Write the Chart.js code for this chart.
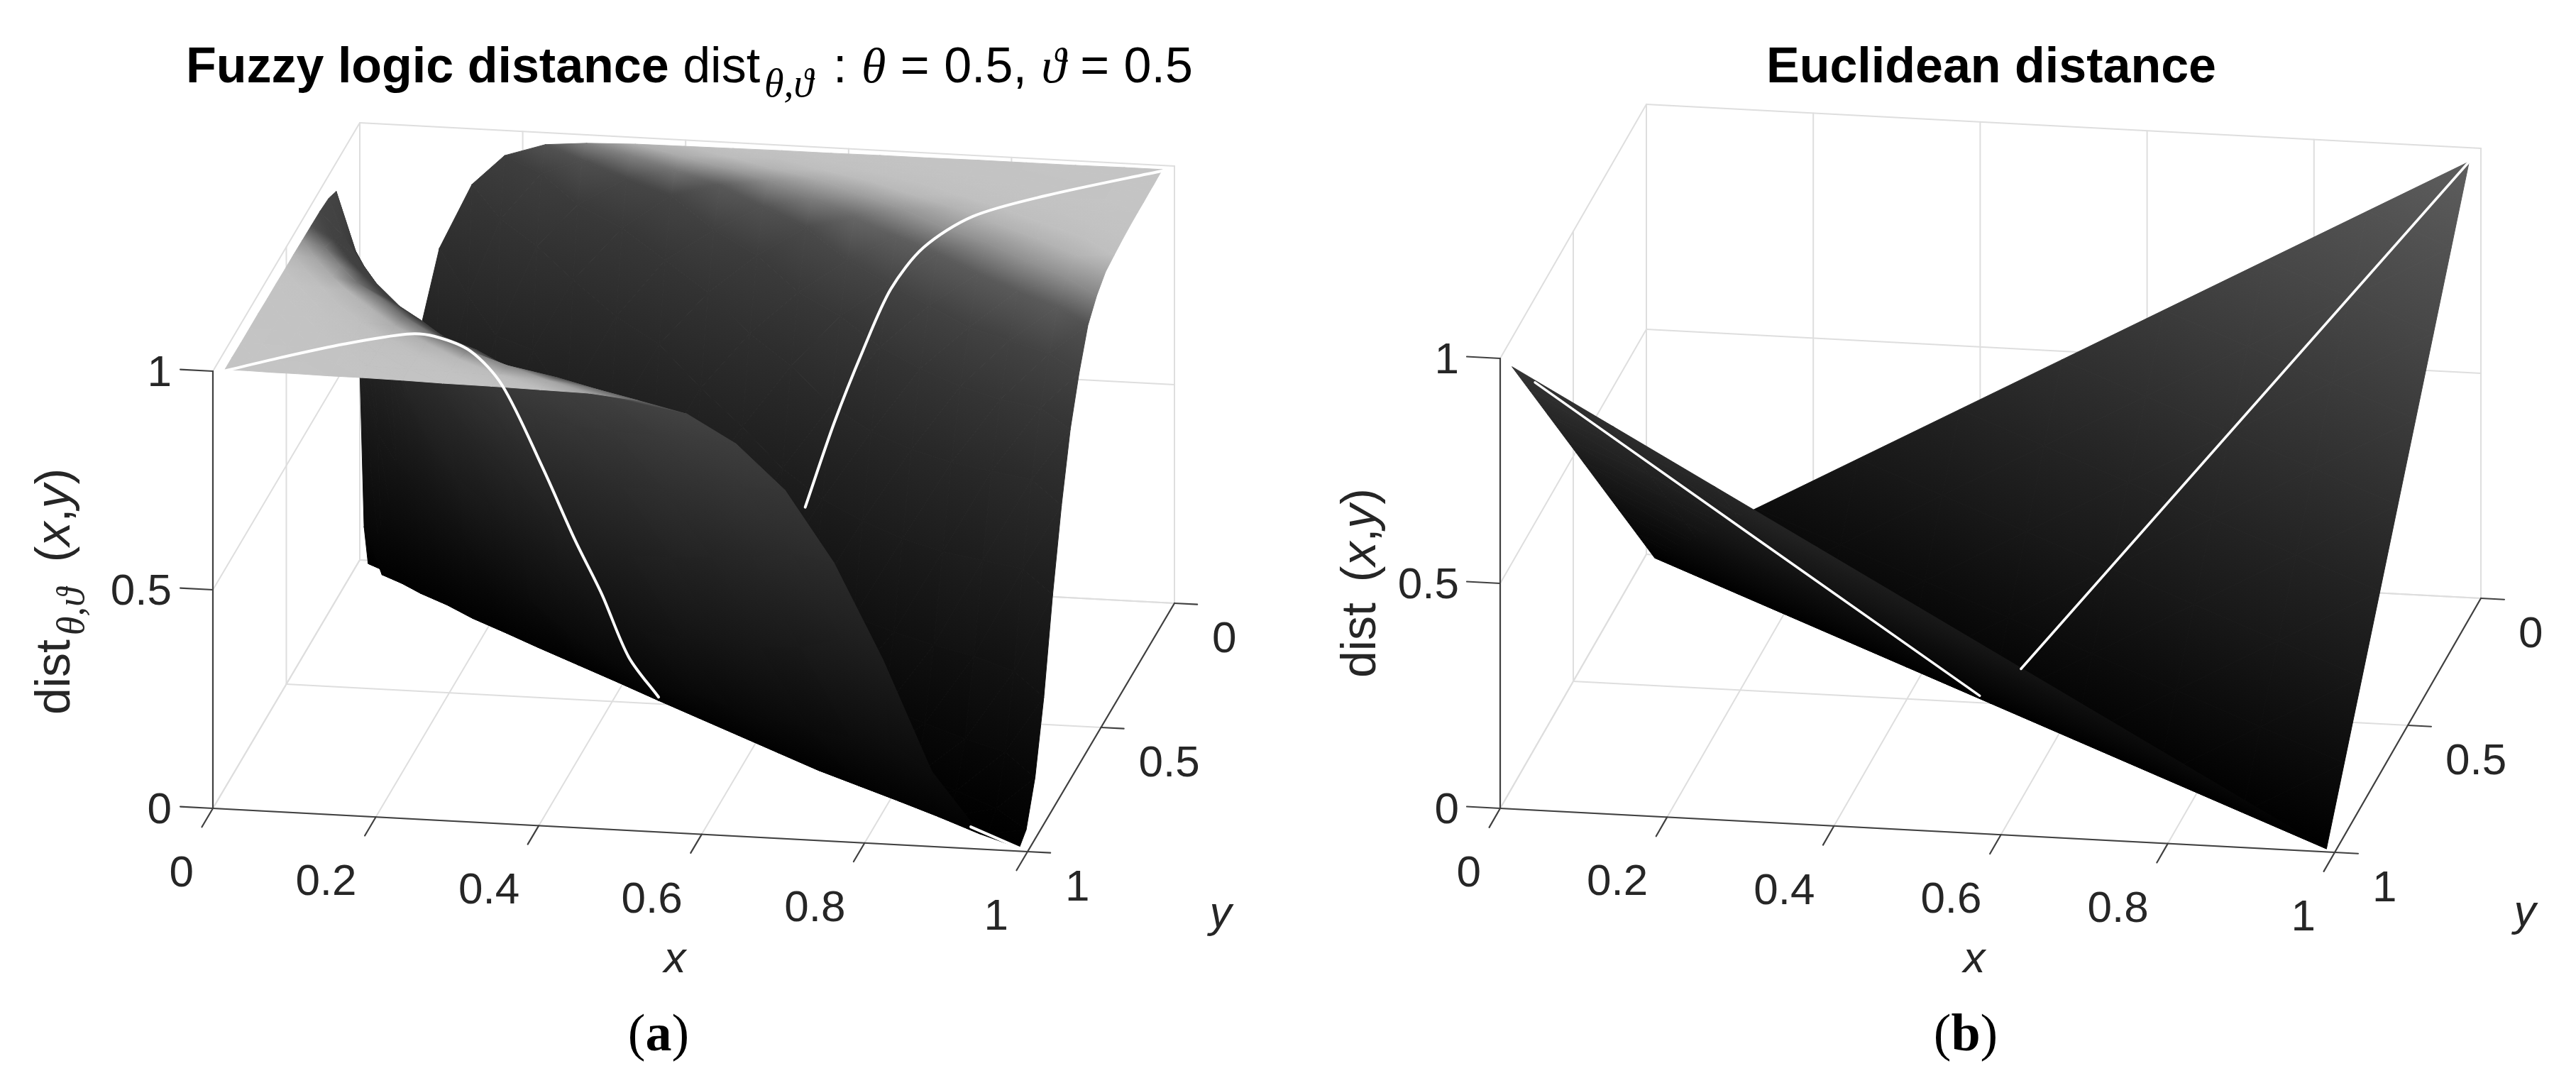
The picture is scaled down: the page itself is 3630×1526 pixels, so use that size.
<!DOCTYPE html>
<html lang="en">
<head>
<meta charset="UTF-8">
<title>Fuzzy logic distance and Euclidean distance</title>
<script src="https://cdn.jsdelivr.net/npm/chart.js@4"></script>
<style>
    body { margin: 0; background: #fff; overflow: hidden; }
    #page { position: relative; width: 3630px; height: 1526px; font-family: 'Liberation Sans', Arial, sans-serif; }
    canvas { position: absolute; left: 0; top: 0; }
    .t { position: absolute; white-space: nowrap; line-height: 1; color: #262626; font-size: 62px; }
    .greek { font-family: 'Liberation Serif', 'DejaVu Serif', serif; font-style: italic; }
    .title { color: #000; font-size: 70px; }
    .sub { font-size: .8em; position: relative; top: .36em; margin-left: 6px; }
    .panel { font-family: 'Liberation Serif', serif; color: #000; font-size: 74px; }
</style>
</head>
<body>
<div id="page"><canvas id="surfaces" width="3630" height="1526"></canvas></div>
<script>
    const xTicks = [0, 0.2, 0.4, 0.6, 0.8, 1];
    const yTicks = [0, 0.5, 1];
    const zTicks = [0, 0.5, 1];

    // fuzzy surface: grid nodes used for both x and y, heights. 0 on x = y
    const fuzzyNodes = [0.0125, 0.04, 0.07, 0.10, 0.14, 0.18, 0.23, 0.28, 0.34, 0.40, 0.46, 0.52, 0.58, 0.64, 0.70, 0.76, 0.82, 0.88, 0.94, 0.9875];
    // x > y, one row per x
    const fuzzyRightHalf = [
        [.15],
        [.49, .10],
        [.73, .35, .07],
        [.88, .64, .31, .085],
        [.95, .82, .57, .29, .055],
        [.98, .93, .78, .56, .235, .06],
        [.988, .965, .88, .725, .47, .21, .04],
        [.992, .982, .945, .85, .67, .44, .18, .045],
        [.993, .987, .97, .93, .805, .635, .38, .165, .03],
        [.994, .991, .983, .96, .88, .76, .57, .35, .125, .025],
        [.995, .993, .987, .975, .94, .85, .70, .515, .28, .11, .02],
        [.995, .994, .99, .985, .963, .92, .80, .66, .46, .25, .10, .02],
        [.996, .995, .992, .989, .978, .95, .88, .78, .61, .43, .235, .10, .02],
        [.996, .995, .994, .991, .986, .973, .94, .86, .75, .59, .42, .235, .10, .02],
        [.997, .996, .995, .994, .99, .985, .965, .935, .85, .74, .59, .42, .24, .10, .02],
        [.997, .996, .996, .995, .993, .989, .984, .965, .93, .84, .74, .60, .43, .25, .105, .02],
        [.997, .997, .996, .995, .995, .993, .989, .983, .964, .93, .85, .75, .62, .45, .265, .11, .025],
        [.998, .997, .997, .996, .996, .995, .993, .99, .984, .966, .935, .86, .77, .64, .47, .27, .12, .025],
        [.998, .998, .997, .997, .996, .996, .995, .993, .989, .984, .964, .93, .855, .76, .62, .45, .25, .10, .015]
    ];
    // x < y, one row per y
    const fuzzyLeftHalf = [
        [.10],
        [.49, .01],
        [.73, .35, .01],
        [.80, .64, .31, .013],
        [.86, .77, .55, .29, .013],
        [.975, .82, .70, .50, .235, .015],
        [.988, .87, .75, .60, .42, .21, .015],
        [.992, .94, .86, .76, .60, .40, .18, .021],
        [.993, .965, .925, .85, .74, .60, .38, .165, .021],
        [.994, .98, .955, .91, .84, .73, .55, .35, .125, .021],
        [.995, .988, .975, .955, .89, .83, .69, .515, .28, .11, .02],
        [.995, .992, .985, .975, .94, .895, .80, .66, .46, .25, .10, .02],
        [.996, .995, .992, .989, .978, .94, .88, .78, .61, .44, .25, .11, .02],
        [.996, .995, .994, .991, .986, .973, .93, .86, .76, .63, .455, .27, .12, .02],
        [.997, .996, .995, .994, .99, .985, .965, .94, .87, .78, .645, .49, .30, .13, .02],
        [.997, .996, .996, .995, .993, .989, .985, .973, .93, .885, .805, .68, .53, .33, .15, .025],
        [.997, .997, .996, .995, .995, .993, .99, .987, .978, .957, .92, .84, .725, .57, .37, .17, .03],
        [.998, .997, .997, .996, .996, .995, .993, .993, .99, .984, .97, .94, .87, .765, .62, .43, .20, .034],
        [.998, .998, .997, .997, .996, .996, .995, .993, .992, .99, .988, .977, .952, .89, .79, .63, .415, .165, .027]
    ];
    // white section along x + y = 1: offset of x from 0.5, and height
    const fuzzyLineLeftS = [-0.4875, -0.4296, -0.3635, -0.298, -0.27, -0.232, -0.199, -0.157, -0.1236, -0.0955, -0.0675, -0.0365];
    const fuzzyLineLeftZ = [0.995, 0.998, 0.998, 0.99, 0.972, 0.92, 0.826, 0.618, 0.438, 0.30, 0.143, 0.037];
    const fuzzyLineRightS = [0.116, 0.146, 0.176, 0.205, 0.239, 0.29, 0.366, 0.489];
    const fuzzyLineRightZ = [0.40, 0.578, 0.73, 0.857, 0.936, 0.983, 0.995, 0.995];
    const fuzzyValleyLine = [0.915, 0.99];

    const euclidNodes = [0.012, 0.134, 0.256, 0.378, 0.5, 0.622, 0.744, 0.866, 0.988];
    const euclidHalf = [
        [.122],
        [.244, .122],
        [.366, .244, .122],
        [.488, .366, .244, .122],
        [.61, .488, .366, .244, .122],
        [.732, .61, .488, .366, .244, .122],
        [.854, .732, .61, .488, .366, .244, .122],
        [.976, .854, .732, .61, .488, .366, .244, .122]
    ];
    const euclidLineLeftS = [-0.4645, -0.25, -0.011];
    const euclidLineLeftZ = [0.93, 0.50, 0.022];
    const euclidLineRightS = [0.031, 0.25, 0.488];
    const euclidLineRightZ = [0.062, 0.50, 0.976];

    // each box is an orthographic view, origin is x=0, y=1, z=0
    const viewA = { ox: 300, oy: 1139, xx: 1148, xy: 61, yx: 207, yy: -350, zy: -616, under: 0.27 };
    const viewB = { ox: 2114, oy: 1139, xx: 1176, xy: 62, yx: 206, yy: -358, zy: -634, under: 0.21 };

    const project = (v, x, y, z) => ({
        x: v.ox + x * v.xx + (1 - y) * v.yx,
        y: v.oy + x * v.xy + (1 - y) * v.yy + z * v.zy
    });

    const clamp = (a, lo, hi) => Math.max(lo, Math.min(hi, a));

    function grayAt(v, z, zx, zy) {
        const nz = 1 / Math.sqrt(1 + zx * zx + zy * zy);
        const f = Math.pow(nz, 2.5);
        const facing = 0.245 + 0.525 * f;
        const under = Math.max(v.under, 0.007 + 0.763 * f);
        const w = clamp(0.5 + (zx - zy) * 2, 0, 1);
        return 255 * z * (under + (facing - under) * w);
    }

    const grayCss = (g) => {
        const v = Math.round(clamp(g, 0, 255));
        return `rgb(${v},${v},${v})`;
    };

    // gouraud fill of one triangle as a linear gradient, in pixels of the chart scales
    function triFill(c, tri) {
        const sx = c.chart.scales.x, sy = c.chart.scales.y;
        const g = tri.grays;
        const flat = grayCss((g[0] + g[1] + g[2]) / 3);
        const p = tri.pts.map(q => ({ x: sx.getPixelForValue(q.x), y: sy.getPixelForValue(q.y) }));
        if (!p.every(q => Number.isFinite(q.x) && Number.isFinite(q.y))) return flat;
        const ax = p[1].x - p[0].x, ay = p[1].y - p[0].y;
        const bx = p[2].x - p[0].x, by = p[2].y - p[0].y;
        const det = ax * by - ay * bx;
        const lo = Math.min(...g), hi = Math.max(...g);
        if (Math.abs(det) < 1 || hi - lo < 0.5) return flat;
        const d1 = g[1] - g[0], d2 = g[2] - g[0];
        const gx = (d1 * by - d2 * ay) / det;
        const gy = (ax * d2 - bx * d1) / det;
        const m = gx * gx + gy * gy;
        if (m < 1e-9) return flat;
        const s = p[g.indexOf(lo)];
        const k = (hi - lo) / m;
        const grad = c.chart.ctx.createLinearGradient(s.x, s.y, s.x + gx * k, s.y + gy * k);
        grad.addColorStop(0, grayCss(lo));
        grad.addColorStop(1, grayCss(hi));
        return grad;
    }

    function surface(view, nodes, rightHalf, leftHalf) {
        const n = nodes.length;
        const zAt = (i, j) => i === j ? 0 : (i > j ? rightHalf[i - 1][j] : leftHalf[j - 1][i]);
        const vertex = (i, j) => {
            const i0 = Math.max(i - 1, 0), i1 = Math.min(i + 1, n - 1);
            const j0 = Math.max(j - 1, 0), j1 = Math.min(j + 1, n - 1);
            const zx = (zAt(i1, j) - zAt(i0, j)) / (nodes[i1] - nodes[i0]);
            const zy = (zAt(i, j1) - zAt(i, j0)) / (nodes[j1] - nodes[j0]);
            const z = zAt(i, j);
            return { p: project(view, nodes[i], nodes[j], z), g: grayAt(view, z, zx, zy) };
        };
        const sets = [];
        const addTri = (a, b, c) => {
            const tri = { pts: [a.p, b.p, c.p], grays: [a.g, b.g, c.g] };
            sets.push({
                data: [a.p, b.p, c.p, a.p],
                showLine: true,
                fill: 'shape',
                tension: 0,
                borderWidth: 1,
                pointRadius: 0,
                pointBackgroundColor: '#000',
                pointBorderColor: '#000',
                backgroundColor: (ctx) => triFill(ctx, tri),
                borderColor: (ctx) => triFill(ctx, tri)
            });
        };
        // far rows first, the camera sits on the +x +y side
        for (let j = 0; j < n - 1; j++) {
            for (let i = 0; i < n - 1; i++) {
                const a = vertex(i, j), b = vertex(i + 1, j), c = vertex(i + 1, j + 1), d = vertex(i, j + 1);
                addTri(a, b, c);
                addTri(a, c, d);
            }
        }
        return sets;
    }

    const polyline = (pts, color, width, tension = 0) => ({
        data: pts,
        showLine: true,
        fill: false,
        tension: tension,
        borderColor: color,
        borderWidth: width,
        pointRadius: 0,
        pointBackgroundColor: color,
        pointBorderColor: color,
        borderCapStyle: 'round'
    });

    function gridLines(v) {
        const out = [];
        const seg = (a, b) => out.push(polyline([project(v, ...a), project(v, ...b)], '#dedede', 2));
        xTicks.forEach(t => { seg([t, 0, 0], [t, 1, 0]); seg([t, 0, 0], [t, 0, 1]); });
        yTicks.forEach(t => { seg([0, t, 0], [1, t, 0]); seg([0, t, 0], [0, t, 1]); });
        zTicks.forEach(t => { seg([0, 0, t], [1, 0, t]); seg([0, 0, t], [0, 1, t]); });
        return out;
    }

    function axisLines(v) {
        const out = [];
        const seg = (a, b) => out.push(polyline([project(v, ...a), project(v, ...b)], '#404040', 2.2));
        seg([0, 1, 0], [0, 1, 1]);
        seg([0, 1, 0], [1, 1, 0]);
        seg([1, 1, 0], [1, 0, 0]);
        zTicks.forEach(t => seg([0, 1, t], [-0.04, 1, t]));
        xTicks.forEach(t => seg([t, 1, 0], [t, 1.075, 0]));
        yTicks.forEach(t => seg([1, t, 0], [1.028, t, 0]));
        return out;
    }

    const section = (v, ss, zs) => ss.map((s, i) => project(v, 0.5 + s, 0.5 - s, zs[i]));

    const drawOrder = [
        ...gridLines(viewA), ...gridLines(viewB),
        ...axisLines(viewA), ...axisLines(viewB),
        ...surface(viewA, fuzzyNodes, fuzzyRightHalf, fuzzyLeftHalf),
        ...surface(viewB, euclidNodes, euclidHalf, euclidHalf),
        polyline(section(viewA, fuzzyLineLeftS, fuzzyLineLeftZ), '#fff', 4, 0.3),
        polyline(section(viewA, fuzzyLineRightS, fuzzyLineRightZ), '#fff', 4, 0.3),
        polyline(fuzzyValleyLine.map(t => project(viewA, t, t, 0)), '#fff', 4),
        polyline(section(viewB, euclidLineLeftS, euclidLineLeftZ), '#fff', 3.5),
        polyline(section(viewB, euclidLineRightS, euclidLineRightZ), '#fff', 3.5)
    ];

    new Chart(document.getElementById('surfaces'), {
        type: 'scatter',
        // chart.js paints dataset 0 last
        data: { datasets: drawOrder.slice().reverse() },
        options: {
            responsive: false,
            animation: false,
            events: [],
            layout: { padding: 0 },
            clip: false,
            scales: {
                x: { type: 'linear', min: 0, max: 3630, display: false },
                y: { type: 'linear', min: 0, max: 1526, reverse: true, display: false }
            },
            plugins: { legend: { display: false }, tooltip: { enabled: false } }
        }
    });

    // all text is html on top of the canvas
    const page = document.getElementById('page');
    function label(html, x, y, shift, cls = '') {
        const el = document.createElement('div');
        el.className = 't ' + cls;
        el.innerHTML = html;
        el.style.left = x + 'px';
        el.style.top = y + 'px';
        el.style.transform = shift;
        page.appendChild(el);
        return el;
    }

    function tickLabels(v) {
        zTicks.forEach(t => {
            const p = project(v, 0, 1, t);
            label(String(t), p.x - 58, p.y, 'translate(-100%,-50%)');
        });
        xTicks.forEach(t => {
            const p = project(v, t, 1, 0);
            label(String(t), p.x - 27, p.y + 89, 'translate(-100%,-50%)');
        });
        yTicks.forEach(t => {
            const p = project(v, 1, t, 0);
            label(String(t), p.x + 53, p.y + 48, 'translate(0,-50%)');
        });
    }
    tickLabels(viewA);
    tickLabels(viewB);

    const it = (s) => `<i>${s}</i>`;
    const gr = (s) => `<span class="greek">${s}</span>`;

    label(`<b>Fuzzy logic distance</b> dist<span class="greek sub">θ,ϑ</span><span style="margin-left:28px;word-spacing:1px">: ${gr('θ')} = 0.5, ${gr('ϑ')} = 0.5</span>`,
        262, 57, 'none', 'title');
    label('<b>Euclidean distance</b>', 2806, 57, 'translateX(-50%)', 'title');

    label(it('x'), 951, 1349, 'translate(-50%,-50%)');
    label(it('y'), 1720, 1285, 'translate(-50%,-50%)');
    label(it('x'), 2782, 1349, 'translate(-50%,-50%)');
    label(it('y'), 3558, 1283, 'translate(-50%,-50%)');

    const yLabelA = label(`dist<span class="greek sub">θ,ϑ</span><span style="margin-left:36px">(${it('x')},${it('y')})</span>`, 40, 1007, 'rotate(-90deg)');
    const yLabelB = label(`dist <span style="margin-left:10px">(${it('x')},${it('y')})</span>`, 1880, 955, 'rotate(-90deg)');
    [yLabelA, yLabelB].forEach(el => { el.style.transformOrigin = '0 0'; el.style.fontSize = '68px'; });

    label('(<b>a</b>)', 928, 1455, 'translate(-50%,-50%)', 'panel');
    label('(<b>b</b>)', 2770, 1455, 'translate(-50%,-50%)', 'panel');
</script>
</body>
</html>
